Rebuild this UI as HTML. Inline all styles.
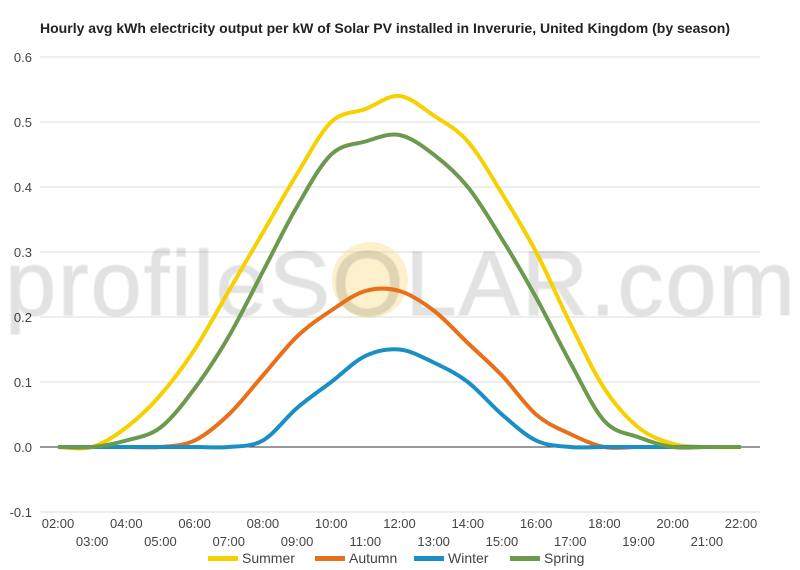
<!DOCTYPE html>
<html><head><meta charset="utf-8"><style>
body{margin:0;background:#fff;}
svg{display:block;font-family:"Liberation Sans",Arial,sans-serif;}
</style></head><body>
<svg id="chart" width="800" height="570" viewBox="0 0 800 570">
<rect width="800" height="570" fill="#fff"/>
<text x="40" y="33" font-size="14" font-weight="bold" fill="#222" textLength="690" lengthAdjust="spacingAndGlyphs">Hourly avg kWh electricity output per kW of Solar PV installed in Inverurie, United Kingdom (by season)</text>
<g id="grid"></g>
<g id="watermark">
<circle cx="370" cy="280" r="38" fill="#f5d76e" opacity="0.35"/>
<text x="400" y="315" text-anchor="middle" font-size="92" fill="#000" opacity="0.11" stroke="#000" stroke-width="2" stroke-opacity="0.5" textLength="790">profileSOLAR.com</text>
</g>
<g id="series"></g>
<g id="xlabels"></g>
<g id="legend"></g>
</svg>
<script>
const hours=[2,3,4,5,6,7,8,9,10,11,12,13,14,15,16,17,18,19,20,21,22];
const yTicks=[-0.1,0,0.1,0.2,0.3,0.4,0.5,0.6];
const seriesNames=["Summer","Autumn","Winter","Spring"];
const seriesColors=["#f7d000","#e8701a","#1a8fc6","#6b9a4f"];
const summer=[0,0,0.03,0.08,0.15,0.24,0.33,0.42,0.5,0.52,0.54,0.51,0.47,0.39,0.3,0.19,0.09,0.03,0.005,0,0];
const autumn=[0,0,0,0,0.01,0.05,0.11,0.17,0.21,0.24,0.24,0.21,0.16,0.11,0.05,0.02,0,0,0,0,0];
const winter=[0,0,0,0,0,0,0.01,0.06,0.1,0.14,0.15,0.13,0.1,0.05,0.01,0,0,0,0,0,0];
const spring=[0,0,0.01,0.03,0.09,0.17,0.27,0.37,0.45,0.47,0.48,0.45,0.4,0.32,0.23,0.13,0.04,0.015,0,0,0];
const allSeries=[summer,autumn,winter,spring];
const NS="http://www.w3.org/2000/svg";
const x=h=>58+(h-2)*(741-58)/20;
const y=v=>447-v*650;
function mk(tag,attrs,parent){const e=document.createElementNS(NS,tag);for(const k in attrs)e.setAttribute(k,attrs[k]);parent.appendChild(e);return e;}
const grid=document.getElementById('grid');
yTicks.forEach(t=>{
  const l=mk('line',{x1:40,x2:760,y1:y(t),y2:y(t),stroke:t===0?'#333':'#ddd','stroke-width':1},grid);
  
  
  const tx=mk('text',{x:32,y:y(t)+5,'text-anchor':'end','font-size':13,fill:'#444'},grid);
  tx.textContent=(t===0?'0.0':t.toFixed(1));
  
  
});
const xl=document.getElementById('xlabels');
hours.forEach((h,i)=>{
  const tx=mk('text',{x:x(h),y:i%2===0?528:546,'text-anchor':'middle','font-size':13,fill:'#444'},xl);
  tx.textContent=(h<10?'0':'')+h+':00';
  
  
});
function pathFor(vals){
  const p=vals.map((v,i)=>[x(hours[i]),y(v)]);
  let d='M'+p[0][0]+','+p[0][1];
  for(let i=0;i<p.length-1;i++){
    const p0=p[Math.max(0,i-1)],p1=p[i],p2=p[i+1],p3=p[Math.min(p.length-1,i+2)];
    const c1=[p1[0]+(p2[0]-p0[0])/6,p1[1]+(p2[1]-p0[1])/6];
    const c2=[p2[0]-(p3[0]-p1[0])/6,p2[1]-(p3[1]-p1[1])/6];
    d+=' C'+c1+' '+c2+' '+p2;
  }
  return d;
}
const sg=document.getElementById('series');
allSeries.forEach((s,i)=>{
  const pth=mk('path',{d:pathFor(s),fill:'none',stroke:seriesColors[i],'stroke-width':4,'stroke-linejoin':'round'},sg);
  
  
});
const lg=document.getElementById('legend');
const lx=[208,315,414,510];
seriesNames.forEach((n,i)=>{
  const g=mk('g',{},lg);
  
  
  mk('rect',{x:lx[i],y:556,width:30,height:5,fill:seriesColors[i]},g);
  const t=mk('text',{x:lx[i]+34,y:563,'font-size':14,fill:'#444'},g);
  t.textContent=n;
});
</script>
</body></html>
